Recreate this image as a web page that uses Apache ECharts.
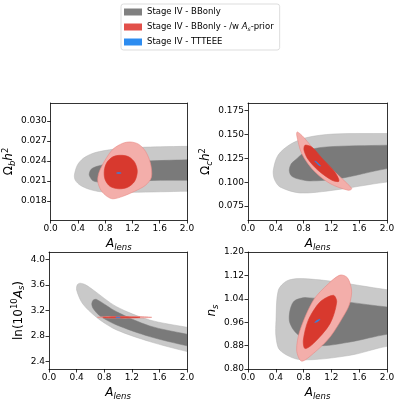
<!DOCTYPE html>
<html><head><meta charset="utf-8">
<script src="https://cdn.jsdelivr.net/npm/echarts@6/dist/echarts.min.js"></script>
<style>html,body{margin:0;padding:0;background:#fff}#c{width:399px;height:403px}</style>
</head><body><div id="c"></div>
<script>
// ---- series names ----
const NAME_BB = 'Stage IV - BBonly';
const NAME_AS = 'Stage IV - BBonly - /w As-prior';
const NAME_TT = 'Stage IV - TTTEEE';

// ---- tick values ----
const xTicks = [0.0, 0.4, 0.8, 1.2, 1.6, 2.0];
const yTicksOb = [0.018, 0.021, 0.024, 0.027, 0.030];
const yTicksOc = [0.075, 0.100, 0.125, 0.150, 0.175];
const yTicksAs = [2.4, 2.8, 3.2, 3.6, 4.0];
const yTicksNs = [0.80, 0.88, 0.96, 1.04, 1.12, 1.20];
const xRange = [0, 2];
const yRangeOb = [0.01515, 0.0327];
const yRangeOc = [0.0603, 0.1831];
const yRangeAs = [2.282, 4.114];
const yRangeNs = [0.80, 1.20];

// ---- contours: Omega_b h^2 vs A_lens ----
const ob_bb_outer = [[0.348,0.02186],[0.391,0.02336],[0.478,0.0244],[0.623,0.02516],[0.812,0.0256],[1.029,0.0259],[1.319,0.02605],[1.609,0.02613],[2.0,0.0262],[2.2,0.0262],[2.2,0.01946],[2.0,0.01946],[1.609,0.01938],[1.174,0.0193],[0.739,0.01938],[0.565,0.01976],[0.435,0.02036],[0.362,0.02111]];
const ob_bb_inner = [[0.565,0.0220],[0.594,0.02276],[0.681,0.0232],[0.884,0.02366],[1.319,0.02396],[2.0,0.02418],[2.2,0.02418],[2.2,0.02111],[2.0,0.02111],[1.609,0.02111],[1.174,0.02096],[0.739,0.0208],[0.623,0.02103],[0.58,0.02156]];
const ob_as_outer = [[1.174,0.02685],[1.058,0.02666],[0.913,0.02576],[0.797,0.0241],[0.710,0.0223],[0.691,0.02096],[0.739,0.0196],[0.826,0.0187],[0.913,0.01833],[1.058,0.0187],[1.232,0.01946],[1.391,0.02036],[1.478,0.02156],[1.464,0.02366],[1.391,0.02546],[1.290,0.02651]];
const ob_as_inner = [[1.029,0.02486],[1.145,0.02463],[1.232,0.0238],[1.271,0.02246],[1.232,0.02096],[1.130,0.02006],[1.0,0.01983],[0.870,0.0202],[0.797,0.02126],[0.787,0.0226],[0.826,0.0238],[0.913,0.02463]];
const ob_tt = [[0.965,0.0222],[1.0,0.02228],[1.035,0.0222],[1.0,0.02212]];

// ---- contours: Omega_c h^2 vs A_lens ----
const oc_bb_outer = [[0.364,0.1125],[0.432,0.1283],[0.604,0.1395],[0.845,0.1468],[1.223,0.1505],[2.0,0.1511],[2.2,0.1511],[2.2,0.1002],[2.0,0.1002],[1.223,0.0915],[0.748,0.0887],[0.46,0.095],[0.38,0.103]];
const oc_bb_inner = [[0.594,0.1125],[0.62,0.119],[0.676,0.123],[0.845,0.1328],[1.132,0.137],[2.0,0.1388],[2.2,0.1388],[2.2,0.1143],[2.0,0.1143],[1.324,0.1038],[0.892,0.1013],[0.701,0.1038],[0.62,0.107]];
const oc_as_outer = [[0.709,0.1527],[0.796,0.1475],[1.036,0.1265],[1.276,0.1090],[1.492,0.0933],[1.443,0.0915],[1.180,0.0986],[0.940,0.1125],[0.773,0.1301],[0.701,0.1493]];
const oc_as_inner = [[0.820,0.1388],[0.921,0.1367],[1.065,0.1251],[1.252,0.1104],[1.309,0.1010],[1.209,0.1020],[1.007,0.1125],[0.863,0.1241],[0.806,0.1335]];
const oc_tt = [[0.96,0.1222],[0.985,0.1214],[1.045,0.1170],[1.02,0.1178]];

// ---- contours: ln(10^10 A_s) vs A_lens ----
const as_bb_outer = [[0.40,3.52],[0.41,3.60],[0.45,3.625],[0.53,3.60],[0.64,3.52],[0.98,3.256],[1.46,3.049],[2.0,2.935],[2.2,2.90],[2.2,2.52],[2.0,2.556],[1.46,2.711],[0.98,2.893],[0.74,3.049],[0.57,3.205],[0.47,3.334]];
const as_bb_inner = [[0.62,3.30],[0.64,3.36],[0.69,3.371],[0.98,3.178],[1.46,2.956],[2.0,2.827],[2.2,2.79],[2.2,2.61],[2.0,2.645],[1.46,2.789],[0.98,2.971],[0.74,3.111],[0.64,3.23]];
const as_as_outer = [[0.70,3.091],[0.9,3.103],[1.3,3.103],[1.49,3.091],[1.3,3.079],[0.9,3.079]];
const as_as_inner = [[0.78,3.091],[1.0,3.099],[1.32,3.091],[1.0,3.083]];
const as_tt = [[0.97,3.095],[1.03,3.095],[1.03,3.087],[0.97,3.087]];

// ---- contours: n_s vs A_lens ----
const ns_bb_outer = [[0.403,0.9665],[0.436,1.069],[0.557,1.101],[0.748,1.109],[1.2,1.10],[2.0,1.071],[2.2,1.068],[2.2,0.874],[2.0,0.8776],[1.468,0.8468],[0.748,0.8321],[0.46,0.8639],[0.403,0.9094]];
const ns_bb_inner = [[0.594,0.9665],[0.652,1.029],[0.845,1.044],[2.0,1.012],[2.2,1.011],[2.2,0.916],[2.0,0.9186],[1.468,0.8923],[0.988,0.881],[0.701,0.921]];
const ns_as_outer = [[1.324,1.121],[1.43,1.112],[1.49,1.07],[1.47,1.03],[1.42,1.0],[1.18,0.909],[0.94,0.853],[0.77,0.827],[0.70,0.864],[0.748,0.932],[0.94,1.035],[1.155,1.091]];
const ns_as_inner = [[1.228,1.052],[1.276,1.029],[1.18,0.955],[0.94,0.887],[0.82,0.870],[0.796,0.898],[0.868,0.967],[1.036,1.029]];
const ns_tt = [[0.96,0.959],[0.99,0.966],[1.035,0.970],[1.005,0.962]];

// ---- styles ----
const FONT = 'DejaVu Sans';
const C = {
  bbL: '#c9c9c9', bbD: '#7a7a7a', bbE: '#b4b4b4',
  asL: '#f3aeaa', asD: '#d8392e', asE: '#e98a84',
  tt: '#2f86e8', legBB: '#808080', legAS: '#e2504a', legTT: '#2d8cf0'
};

const grids = [
  {left:49, top:103, width:138, height:117},
  {left:248, top:103, width:139, height:117},
  {left:49, top:252, width:138, height:117},
  {left:248, top:252, width:139, height:117}
];
const panels = [
  {yr: yRangeOb, yt: yTicksOb, fmt: v => v.toFixed(3), name: '{o|Ω}{sub|b}{i|h}{sup|2}', gap: 29,
   bb:[ob_bb_outer, ob_bb_inner], as:[ob_as_outer, ob_as_inner], tt:[ob_tt]},
  {yr: yRangeOc, yt: yTicksOc, fmt: v => v.toFixed(3), name: '{o|Ω}{sub|c}{i|h}{sup|2}', gap: 26,
   bb:[oc_bb_outer, oc_bb_inner], as:[oc_as_outer, oc_as_inner], tt:[oc_tt]},
  {yr: yRangeAs, yt: yTicksAs, fmt: v => v.toFixed(1), name: '{o|ln(10}{sup|10}{i|A}{sub|s}{o|)}', gap: 16,
   bb:[as_bb_outer, as_bb_inner], as:[as_as_outer, as_as_inner], tt:[as_tt]},
  {yr: yRangeNs, yt: yTicksNs, fmt: v => v.toFixed(2), name: '{i|n}{sub|s}', gap: 24,
   bb:[ns_bb_outer, ns_bb_inner], as:[ns_as_outer, ns_as_inner], tt:[ns_tt]}
];

const richName = {
  o: {fontFamily: FONT, fontSize: 12, color:'#000', lineHeight: 16, verticalAlign:'middle'},
  i: {fontFamily: FONT, fontSize: 12, fontStyle:'italic', color:'#000', lineHeight: 16, verticalAlign:'middle'},
  sub: {fontFamily: FONT, fontSize: 8.5, fontStyle:'italic', color:'#000', lineHeight: 9, verticalAlign:'bottom'},
  sup: {fontFamily: FONT, fontSize: 8.5, color:'#000', lineHeight: 9, verticalAlign:'top'}
};
const lineStyle = {color:'#000', width:0.8};

const xAxes = [], yAxes = [], series = [];
panels.forEach((p, k) => {
  xAxes.push({
    type:'value', gridIndex:k, min:xRange[0], max:xRange[1], z:10,
    axisLine:{show:true, onZero:false, lineStyle},
    axisTick:{show:true, length:3.5, lineStyle, customValues:xTicks},
    axisLabel:{fontFamily:FONT, fontSize:9, color:'#000', margin:4, customValues:xTicks, formatter:v=>v.toFixed(1)},
    splitLine:{show:false},
    name:'{i|A}{sub|lens}', nameLocation:'middle', nameGap:16,
    nameTextStyle:{rich:richName}
  });
  xAxes.push({
    type:'value', gridIndex:k, position:'top', min:xRange[0], max:xRange[1], z:10,
    axisLine:{show:true, onZero:false, lineStyle}, axisTick:{show:false}, axisLabel:{show:false}, splitLine:{show:false}
  });
  yAxes.push({
    type:'value', gridIndex:k, min:p.yr[0], max:p.yr[1], z:10,
    axisLine:{show:true, onZero:false, lineStyle},
    axisTick:{show:true, length:3.5, lineStyle, customValues:p.yt},
    axisLabel:{fontFamily:FONT, fontSize:9, color:'#000', margin:4, customValues:p.yt, formatter:p.fmt},
    splitLine:{show:false},
    name:p.name, nameLocation:'middle', nameRotate:90, nameGap:p.gap,
    nameTextStyle:{rich:richName}
  });
  yAxes.push({
    type:'value', gridIndex:k, position:'right', min:p.yr[0], max:p.yr[1], z:10,
    axisLine:{show:true, onZero:false, lineStyle}, axisTick:{show:false}, axisLabel:{show:false}, splitLine:{show:false}
  });
  const mk = (name, polys, fills, strokes, lw) => ({
    type:'custom', name, xAxisIndex:2*k, yAxisIndex:2*k, clip:true, silent:true, animation:false,
    data: polys.map(pl => pl[0]),
    renderItem: (params, api) => {
      const pl = polys[params.dataIndex];
      return {type:'polygon', shape:{points: pl.map(q => api.coord(q)), smooth:0.3},
        style:{fill: fills[params.dataIndex], stroke: strokes[params.dataIndex], lineWidth: lw}};
    }
  });
  series.push(mk(NAME_BB, p.bb, [C.bbL, C.bbD], [C.bbE, C.bbD], 0.5));
  series.push(mk(NAME_AS, p.as, [C.asL, C.asD], [C.asE, C.asD], 0.6));
  series.push(mk(NAME_TT, p.tt, [C.tt], [C.tt], 0.5));
});

const chart = echarts.init(document.getElementById('c'), null, {renderer:'canvas'});
chart.setOption({
  backgroundColor:'#fff',
  animation:false,
  grid: grids,
  xAxis: xAxes,
  yAxis: yAxes,
  legend: {
    orient:'vertical', left:121, top:4, padding:[3,6,3,3],
    itemWidth:18, itemHeight:7, itemGap:5, itemTextGap:6, icon:'rect',
    selectedMode:false, backgroundColor:'#fff',
    borderColor:'#d4d4d4', borderWidth:0.8, borderRadius:2.5,
    textStyle:{fontFamily:FONT, fontSize:8.5, color:'#000', lineHeight:10,
      rich:{
        t:{fontFamily:FONT, fontSize:8.5, color:'#000', lineHeight:10},
        it:{fontFamily:FONT, fontSize:8.5, fontStyle:'italic', color:'#000', lineHeight:10},
        s:{fontFamily:FONT, fontSize:6, fontStyle:'italic', color:'#000', lineHeight:6, verticalAlign:'bottom'}
      }},
    formatter: n => n === NAME_AS ? '{t|Stage IV - BBonly - /w }{it|A}{s|s}{t|-prior}' : n,
    data:[
      {name:NAME_BB, itemStyle:{color:C.legBB}},
      {name:NAME_AS, itemStyle:{color:C.legAS}},
      {name:NAME_TT, itemStyle:{color:C.legTT}}
    ]
  },
  series
});
</script></body></html>
